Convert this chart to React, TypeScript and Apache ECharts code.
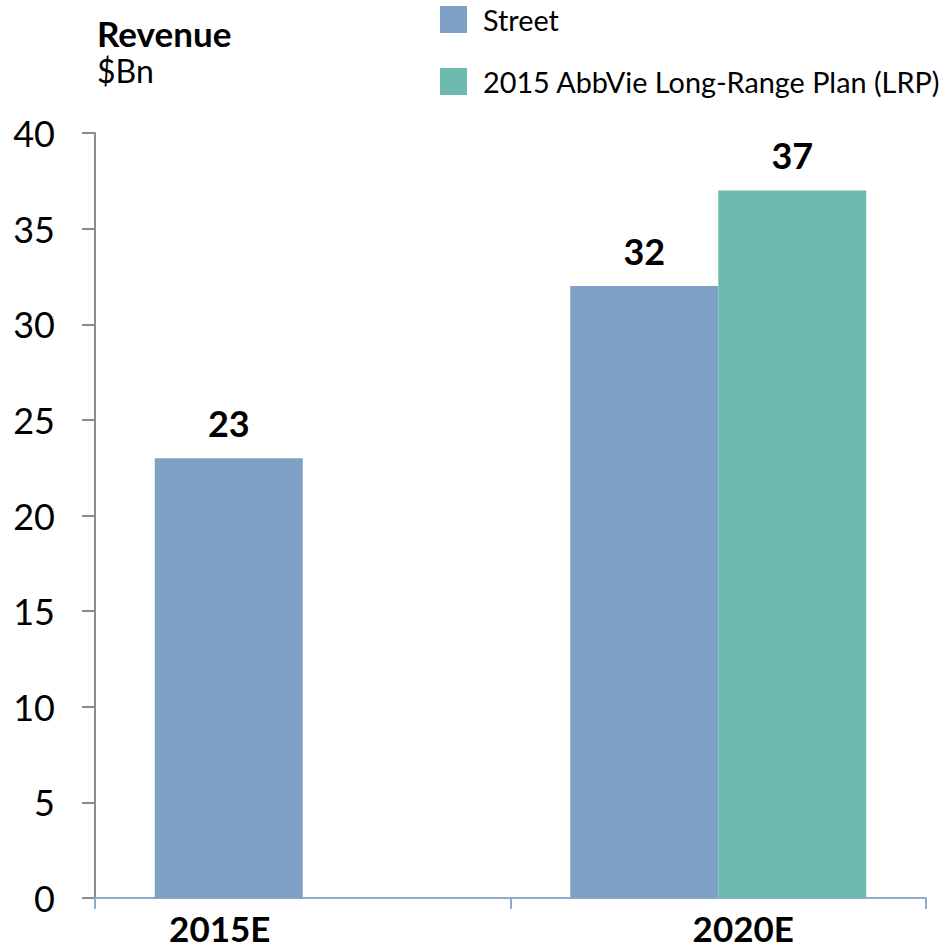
import React, { useEffect, useRef } from "react";
import * as echarts from "echarts";

const categories = ["2015E", "2020E"];
const streetValues = [23, 32];
const lrpValues: (number | null)[] = [null, 37];
const seriesNames = ["Street", "2015 AbbVie Long-Range Plan (LRP)"];
const yTicks = { min: 0, max: 40, interval: 5 };

const FONT = "Lato";

export default function App() {
  const ref = useRef<HTMLDivElement>(null);
  useEffect(() => {
    document.body.style.margin = "0";
    if (!ref.current) return;
    const chart = echarts.init(ref.current, null, { renderer: "svg" });
    const labelStyle = {
      show: true,
      position: "top" as const,
      distance: 17,
      fontFamily: FONT,
      fontWeight: "bold" as const,
      fontSize: 36,
      color: "#000",
    };
    chart.setOption({
      animation: false,
      textStyle: { fontFamily: FONT },
      title: {
        text: "Revenue",
        subtext: "$Bn",
        left: 92,
        top: 10,
        itemGap: 4,
        textStyle: { fontFamily: FONT, fontWeight: "bold", fontSize: 35, color: "#000" },
        subtextStyle: { fontFamily: FONT, fontSize: 32, color: "#000" },
      },
      legend: {
        orient: "vertical",
        left: 440,
        top: 5,
        padding: 0,
        itemWidth: 27,
        itemHeight: 27,
        itemGap: 33,
        icon: "rect",
        textStyle: { fontFamily: FONT, fontSize: 28.8, color: "#000", padding: [0, 0, 0, 11] },
        data: seriesNames,
      },
      grid: { left: 95, right: 19, top: 133, bottom: 53, containLabel: false },
      xAxis: {
        type: "category",
        data: categories,
        axisLine: { show: true, lineStyle: { color: "#8eabcf", width: 2 } },
        axisTick: { show: true, length: 11, lineStyle: { color: "#8eabcf", width: 2 } },
        axisLabel: {
          margin: 13,
          formatter: (v: string, i: number) => (i === 0 ? `{a|${v}}` : `{b|${v}}`),
          rich: {
            a: { fontFamily: FONT, fontWeight: "bold", fontSize: 35, lineHeight: 34, color: "#000", padding: [0, 166, 0, 0] },
            b: { fontFamily: FONT, fontWeight: "bold", fontSize: 35, lineHeight: 34, color: "#000", padding: [0, 0, 0, 50] },
          },
        },
      },
      yAxis: {
        type: "value",
        min: yTicks.min,
        max: yTicks.max,
        interval: yTicks.interval,
        splitLine: { show: false },
        axisLine: { show: true, lineStyle: { color: "#8c8c8c", width: 2 } },
        axisTick: { show: true, length: 13, lineStyle: { color: "#8c8c8c", width: 2 } },
        axisLabel: { margin: 40, fontFamily: FONT, fontSize: 36, color: "#000" },
      },
      series: [
        {
          name: seriesNames[0],
          type: "bar",
          data: streetValues,
          barWidth: 148,
          barGap: "0%",
          itemStyle: { color: "#7fa1c6" },
          label: labelStyle,
        },
        {
          name: seriesNames[1],
          type: "bar",
          data: lrpValues,
          barWidth: 148,
          barGap: "0%",
          itemStyle: { color: "#6cbbae" },
          label: labelStyle,
        },
      ],
    });
    return () => chart.dispose();
  }, []);
  return <div ref={ref} style={{ width: 945, height: 951 }} />;
}
